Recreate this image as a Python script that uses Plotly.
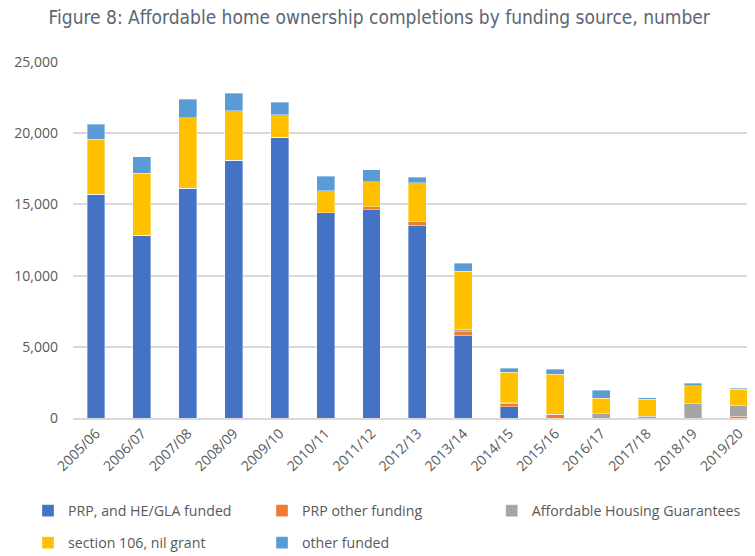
import plotly.graph_objects as go

years = ["2005/06", "2006/07", "2007/08", "2008/09", "2009/10", "2010/11", "2011/12",
         "2012/13", "2013/14", "2014/15", "2015/16", "2016/17", "2017/18", "2018/19", "2019/20"]

prp_hegla = [15710, 12830, 16150, 18100, 19730, 14400, 14630, 13550, 5810, 790, 0, 0, 0, 0, 0]
prp_other = [0, 0, 0, 0, 0, 0, 190, 240, 230, 240, 260, 0, 0, 0, 140]
ahg = [0, 0, 0, 0, 0, 0, 0, 0, 210, 40, 0, 300, 140, 1050, 770]
s106 = [3860, 4370, 4920, 3460, 1570, 1560, 1770, 2730, 4050, 2140, 2810, 1080, 1170, 1220, 1105]
other_funded = [1050, 1150, 1310, 1260, 890, 1010, 830, 400, 560, 300, 370, 570, 120, 170, 70]

series = [
    ("PRP, and HE/GLA funded", prp_hegla, "#4472C4", "legend"),
    ("PRP other funding", prp_other, "#ED7D31", "legend"),
    ("Affordable Housing Guarantees", ahg, "#A5A5A5", "legend3"),
    ("section 106, nil grant", s106, "#FFC000", "legend2"),
    ("other funded", other_funded, "#5B9BD5", "legend2"),
]

fig = go.Figure()
for name, vals, col, leg in series:
    fig.add_trace(go.Bar(
        x=years, y=vals, name=name, width=0.39, legend=leg,
        marker=dict(color=col, line=dict(width=0.8, color="rgba(255,255,255,0.45)")),
    ))

legend_common = dict(
    orientation="h", xanchor="left", yanchor="middle",
    entrywidth=189, entrywidthmode="pixels", traceorder="normal",
    font=dict(size=14.2, color="#595959"), itemwidth=30, tracegroupgap=0,
    bgcolor="rgba(0,0,0,0)",
)

# page body adds an 8px offset, so the figure is 8px smaller than the window
fig.update_layout(
    barmode="stack",
    width=747, height=548,
    paper_bgcolor="white", plot_bgcolor="white",
    margin=dict(l=65, r=0, t=54, b=138, autoexpand=False),
    font=dict(family="Open Sans, Liberation Sans, sans-serif", color="#595959", size=14),
    title=dict(
        text="Figure 8: Affordable home ownership completions by funding source, number",
        x=0.497, xanchor="center", y=0.995, yanchor="top",
        font=dict(family="DejaVu Sans Condensed, Roboto, sans-serif", size=19, color="#5b6676"),
    ),
    xaxis=dict(
        range=[-0.5, 14.35], tickangle=-45, showgrid=False, automargin=False,
        showline=True, linecolor="#d9d9d9", linewidth=1.5,
        tickfont=dict(size=14, color="#595959"), ticks="",
    ),
    yaxis=dict(
        range=[0, 25000], dtick=5000, tickformat=",", gridcolor="#d9d9d9", gridwidth=1.5,
        zeroline=False, tickfont=dict(size=14, color="#595959"), ticks="",
        ticklabelstandoff=14, automargin=False,
    ),
    legend=dict(x=-0.066, y=-0.261, **legend_common),
    legend2=dict(x=-0.066, y=-0.351, **legend_common),
    legend3=dict(x=0.614, y=-0.261, **{k: v for k, v in legend_common.items() if k != "entrywidth"}),
    bargap=0.6,
)

fig.write_html("out.html")
